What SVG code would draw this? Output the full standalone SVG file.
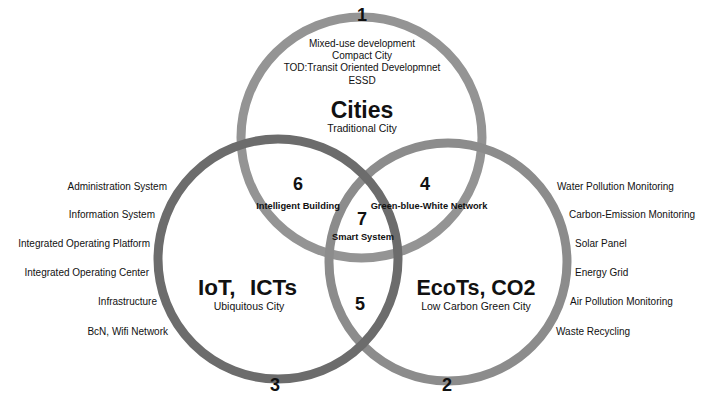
<svg xmlns="http://www.w3.org/2000/svg" width="702" height="395" viewBox="0 0 702 395">
<style>
.bg{fill:#ffffff}
.ring{fill:none;stroke-width:9}
.t{font-family:"Liberation Sans",Arial,sans-serif;fill:#111}
.s{font-size:10px}
.m{font-size:9.3px;font-weight:bold}
.n{font-size:18px;font-weight:bold}
.big{font-weight:bold}
.c{text-anchor:middle}
.r{text-anchor:end}
</style>
<rect class="bg" x="0" y="0" width="702" height="395"/>
<g id="connectors"></g>
<g id="circle-cities">
  <circle class="ring" cx="361.5" cy="137.5" r="120.5" stroke="#949494"/>
</g>
<g id="circle-ecots">
  <circle class="ring" cx="448" cy="262" r="119" stroke="#8c8c8c"/>
</g>
<g id="circle-iot">
  <circle class="ring" cx="278" cy="259" r="120" stroke="#6c6c6c"/>
</g>
<g id="node-cities">
  <text class="t n c" x="362" y="21">1</text>
  <text class="t s c" x="362" y="47">Mixed-use development</text>
  <text class="t s c" x="362" y="59">Compact City</text>
  <text class="t s c" x="362" y="71">TOD:Transit Oriented Developmnet</text>
  <text class="t s c" x="362" y="84">ESSD</text>
  <text class="t big c" x="362" y="118" font-size="23">Cities</text>
  <text class="t c" x="362" y="132" font-size="10.5">Traditional City</text>
</g>
<g id="node-iot">
  <text class="t big" y="295" font-size="22.5"><tspan x="198">IoT,</tspan><tspan x="250">ICTs</tspan></text>
  <text class="t c" x="249" y="310" font-size="10.5">Ubiquitous City</text>
  <text class="t n c" x="275" y="391">3</text>
  <text class="t s r" x="167" y="190">Administration System</text>
  <text class="t s r" x="155" y="218">Information System</text>
  <text class="t s r" x="150" y="247">Integrated Operating Platform</text>
  <text class="t s r" x="149" y="276">Integrated Operating Center</text>
  <text class="t s r" x="157" y="305">Infrastructure</text>
  <text class="t s r" x="168" y="335">BcN, Wifi Network</text>
</g>
<g id="node-ecots">
  <text class="t big c" x="476" y="295" font-size="21.5">EcoTs, CO2</text>
  <text class="t c" x="476" y="310" font-size="10.5">Low Carbon Green City</text>
  <text class="t n c" x="447" y="391">2</text>
  <text class="t s" x="557" y="190">Water Pollution Monitoring</text>
  <text class="t s" x="569" y="218">Carbon-Emission Monitoring</text>
  <text class="t s" x="575" y="247">Solar Panel</text>
  <text class="t s" x="575" y="276">Energy Grid</text>
  <text class="t s" x="570" y="305">Air Pollution Monitoring</text>
  <text class="t s" x="556" y="335">Waste Recycling</text>
</g>
<g id="node-6">
  <text class="t n c" x="298" y="190">6</text>
  <text class="t m c" x="298" y="209">Intelligent Building</text>
</g>
<g id="node-4">
  <text class="t n c" x="425" y="190">4</text>
  <text class="t m c" x="429" y="209">Green-blue-White Network</text>
</g>
<g id="node-7">
  <text class="t n c" x="362" y="225">7</text>
  <text class="t m c" x="363" y="240">Smart System</text>
</g>
<g id="node-5">
  <text class="t n c" x="360" y="310">5</text>
</g>
</svg>
